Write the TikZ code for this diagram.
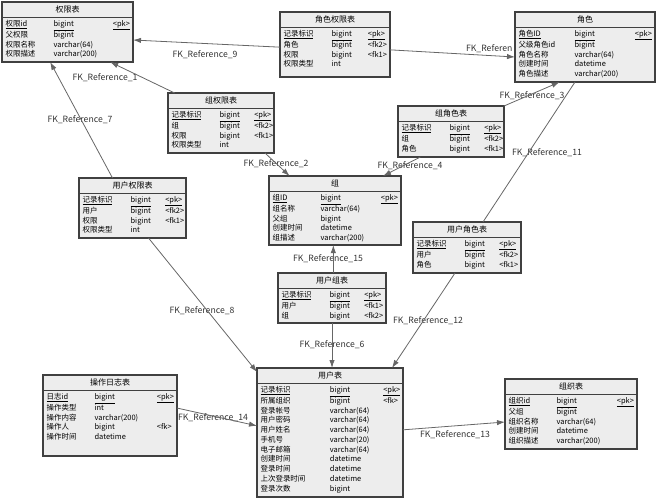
\documentclass[tikz,border=0pt]{standalone}
\usepackage{fontspec}
\setmainfont{Noto Sans CJK SC}
\usetikzlibrary{arrows.meta,calc}
\setlength\tabcolsep{1pt}
\tikzset{
  tblbox/.style={draw=black!75,fill=black!7,line width=0.8pt,inner sep=0pt,outer sep=0pt},
  tblline/.style={draw=black!75,line width=0.6pt},
  fk/.style={draw=black!60,line width=0.6pt,-{Latex[length=6pt,width=4pt]}},
  fkn/.style={draw=black!60,line width=0.6pt},
  lbl/.style={font=\fontsize{6.5}{7}\selectfont,text=black!80,inner sep=1pt},
  ttl/.style={font=\fontsize{6}{7}\selectfont,inner sep=0pt},
}
\newcommand\erTable[9]{%
  \node[tblbox,minimum width=#4*0.75pt,minimum height=#5*0.75pt,anchor=north west] (#1) at (#2,#3) {};
  \draw[tblline] ([yshift=-11.25pt]#1.north west) -- ([yshift=-11.25pt]#1.north east);
  \node[ttl] (#1-t) at ([yshift=-5.6pt]#1.north) {#6};
  \pgfmathsetmacro\ertw{#4*0.75-5}%
  \node[anchor=north west,inner xsep=2.5pt,inner ysep=1.5pt,text width=\ertw pt,font=\fontsize{5.6}{7.3}\selectfont] (#1-b) at ([yshift=-11.25pt]#1.north west)
    {\begin{tabular*}{\linewidth}{@{}p{#7pt}p{#8pt}@{\extracolsep{\fill}}l@{}}#9\end{tabular*}};
}
\begin{document}
\begin{tikzpicture}[x=0.75pt,y=-0.75pt]
\useasboundingbox (0,0) rectangle (656,500);
% labels
\node[lbl,anchor=east] (l10) at (514,49) {FK\_Referen};
\node[lbl] (l9) at (205,55) {FK\_Reference\_9};
\node[lbl] (l1) at (105,78) {FK\_Reference\_1};
\node[lbl] (l7) at (80,120) {FK\_Reference\_7};
\node[lbl] (l2) at (276,164) {FK\_Reference\_2};
\node[lbl] (l4) at (410,166) {FK\_Reference\_4};
\node[lbl] (l3) at (532,96) {FK\_Reference\_3};
\node[lbl] (l11) at (547,153) {FK\_Reference\_11};
\node[lbl] (l15) at (328,259) {FK\_Reference\_15};
\node[lbl] (l8) at (202,311) {FK\_Reference\_8};
\node[lbl] (l6) at (332,345) {FK\_Reference\_6};
\node[lbl] (l12) at (428,321) {FK\_Reference\_12};
\node[lbl] (l14) at (213,418) {FK\_Reference\_14};
\node[lbl] (l13) at (455,435) {FK\_Reference\_13};

\erTable{qx}{2}{2}{131}{60}{权限表}{34}{40}{%
\underline{权限id} & \underline{bigint} & \underline{<pk>}\\
父权限 & bigint & \\
权限名称 & varchar(64) & \\
权限描述 & varchar(200) & }
\erTable{jsqx}{280}{12}{110}{65}{角色权限表}{34}{26}{%
\underline{记录标识} & \underline{bigint} & \underline{<pk>}\\
角色 & bigint & <fk2>\\
权限 & bigint & <fk1>\\
权限类型 & int & }
\erTable{js}{515}{12}{140}{70}{角色}{40}{40}{%
\underline{角色ID} & \underline{bigint} & \underline{<pk>}\\
父级角色id & bigint & \\
角色名称 & varchar(64) & \\
创建时间 & datetime & \\
角色描述 & varchar(200) & }
\erTable{zqx}{168}{93}{106}{60}{组权限表}{34}{26}{%
\underline{记录标识} & \underline{bigint} & \underline{<pk>}\\
组 & bigint & <fk2>\\
权限 & bigint & <fk1>\\
权限类型 & int & }
\erTable{zjs}{398}{106}{106}{51}{组角色表}{34}{26}{%
\underline{记录标识} & \underline{bigint} & \underline{<pk>}\\
组 & bigint & <fk2>\\
角色 & bigint & <fk1>}
\erTable{yhqx}{79}{178}{107}{60}{用户权限表}{34}{26}{%
\underline{记录标识} & \underline{bigint} & \underline{<pk>}\\
用户 & bigint & <fk2>\\
权限 & bigint & <fk1>\\
权限类型 & int & }
\erTable{z}{269}{176}{132}{69}{组}{34}{40}{%
\underline{组ID} & \underline{bigint} & \underline{<pk>}\\
组名称 & varchar(64) & \\
父组 & bigint & \\
创建时间 & datetime & \\
组描述 & varchar(200) & }
\erTable{yhjs}{413}{222}{108}{51}{用户角色表}{34}{26}{%
\underline{记录标识} & \underline{bigint} & \underline{<pk>}\\
用户 & bigint & <fk2>\\
角色 & bigint & <fk1>}
\erTable{yhz}{278}{273}{108}{50}{用户组表}{34}{26}{%
\underline{记录标识} & \underline{bigint} & \underline{<pk>}\\
用户 & bigint & <fk1>\\
组 & bigint & <fk2>}
\erTable{yh}{257}{368}{146}{129}{用户表}{50}{40}{%
\underline{记录标识} & \underline{bigint} & \underline{<pk>}\\
所属组织 & bigint & <fk>\\
登录帐号 & varchar(64) & \\
用户密码 & varchar(64) & \\
用户姓名 & varchar(64) & \\
手机号 & varchar(20) & \\
电子邮箱 & varchar(64) & \\
创建时间 & datetime & \\
登录时间 & datetime & \\
上次登录时间 & datetime & \\
登录次数 & bigint & }
\erTable{rz}{43}{375}{134}{81}{操作日志表}{34}{40}{%
\underline{日志id} & \underline{bigint} & \underline{<pk>}\\
操作类型 & int & \\
操作内容 & varchar(200) & \\
操作人 & bigint & <fk>\\
操作时间 & datetime & }
\erTable{zz}{505}{379}{132}{70}{组织表}{34}{40}{%
\underline{组织id} & \underline{bigint} & \underline{<pk>}\\
父组 & bigint & \\
组织名称 & varchar(64) & \\
创建时间 & datetime & \\
组织描述 & varchar(200) & }

% connectors
\draw[fk] ([yshift=-2pt]jsqx.west) -- ([yshift=-6pt]qx.east);
\draw[fk] ([yshift=-4pt]jsqx.east) -- ([yshift=-7.5pt]js.west);
\draw[fk] ([xshift=5pt]zqx.north west) -- ([xshift=32pt]qx.south);
\draw[fk] ([xshift=-15pt]yhqx.north) -- ([xshift=-13pt]qx.south);
\draw[fk] ([xshift=33pt]zqx.south) -- ([xshift=-34pt]z.north);
\draw[fk] ([xshift=-23pt]zjs.south) -- ([xshift=36pt]z.north);
\draw[fk] (zjs.north east) -- ([xshift=-19pt]js.south);
\draw[fkn] ([xshift=12pt]yhjs.north) -- ([xshift=-7.5pt]js.south);
\draw[fk] ([xshift=1pt]yhz.north) -- ([xshift=1pt]yhz.north |- z.south);
\draw[fk] ([xshift=12pt]yhqx.south) -- ([yshift=-3pt]yh.north west);
\draw[fk] (yhz.south) -- (yhz.south |- yh.north);
\draw[fk] ([xshift=-9pt]yhjs.south) -- ([xshift=46.5pt]yh.north);
\draw[fk] ([yshift=5.6pt]rz.east) -- ([yshift=5pt]yh.west);
\draw[fk] ([yshift=2pt]yh.east) -- ([yshift=-6pt]zz.west);
\end{tikzpicture}
\end{document}
